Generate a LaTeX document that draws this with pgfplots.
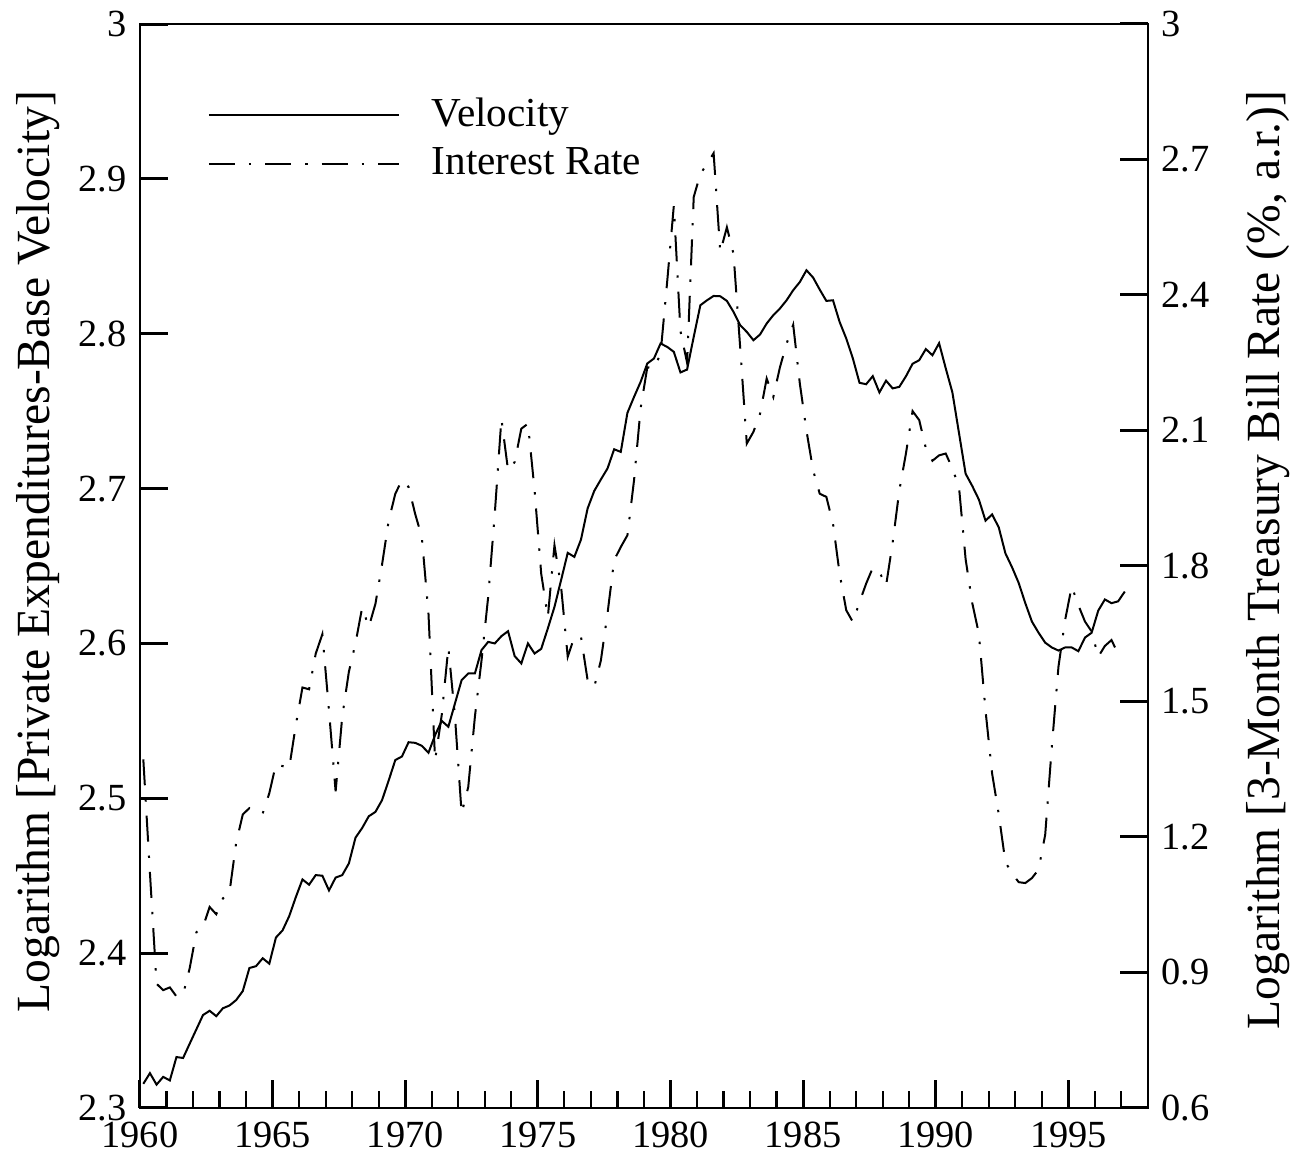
\documentclass[border=0pt]{standalone}
\usepackage{fontspec}
\setmainfont{Liberation Serif}
\usepackage{pgfplots}
\usepackage{pgfplotstable}
\pgfplotsset{compat=1.18}

\pgfplotstableread{
t v
1960.125 2.3156
1960.375 2.3225
1960.625 2.3151
1960.875 2.3201
1961.125 2.3178
1961.375 2.3329
1961.625 2.3323
1961.875 2.3416
1962.125 2.3508
1962.375 2.3600
1962.625 2.3628
1962.875 2.3593
1963.125 2.3644
1963.375 2.3662
1963.625 2.3697
1963.875 2.3755
1964.125 2.3904
1964.375 2.3916
1964.625 2.3967
1964.875 2.3932
1965.125 2.4101
1965.375 2.4147
1965.625 2.4239
1965.875 2.4362
1966.125 2.4476
1966.375 2.4442
1966.625 2.4504
1966.875 2.4500
1967.125 2.4405
1967.375 2.4488
1967.625 2.4504
1967.875 2.4580
1968.125 2.4746
1968.375 2.4808
1968.625 2.4884
1968.875 2.4912
1969.125 2.4988
1969.375 2.5115
1969.625 2.5247
1969.875 2.5270
1970.125 2.5362
1970.375 2.5358
1970.625 2.5339
1970.875 2.5294
1971.125 2.5408
1971.375 2.5500
1971.625 2.5462
1971.875 2.5613
1972.125 2.5763
1972.375 2.5806
1972.625 2.5806
1972.875 2.5957
1973.125 2.6010
1973.375 2.6000
1973.625 2.6047
1973.875 2.6079
1974.125 2.5918
1974.375 2.5871
1974.625 2.6000
1974.875 2.5935
1975.125 2.5965
1975.375 2.6097
1975.625 2.6236
1975.875 2.6409
1976.125 2.6585
1976.375 2.6559
1976.625 2.6671
1976.875 2.6872
1977.125 2.6985
1977.375 2.7059
1977.625 2.7130
1977.875 2.7254
1978.125 2.7237
1978.375 2.7489
1978.625 2.7592
1978.875 2.7690
1979.125 2.7808
1979.375 2.7840
1979.625 2.7937
1979.875 2.7915
1980.125 2.7883
1980.375 2.7750
1980.625 2.7769
1980.875 2.7980
1981.125 2.8184
1981.375 2.8216
1981.625 2.8244
1981.875 2.8242
1982.125 2.8212
1982.375 2.8141
1982.625 2.8055
1982.875 2.8012
1983.125 2.7958
1983.375 2.7995
1983.625 2.8066
1983.875 2.8120
1984.125 2.8163
1984.375 2.8216
1984.625 2.8281
1984.875 2.8334
1985.125 2.8410
1985.375 2.8363
1985.625 2.8285
1985.875 2.8212
1986.125 2.8216
1986.375 2.8076
1986.625 2.7969
1986.875 2.7840
1987.125 2.7683
1987.375 2.7674
1987.625 2.7726
1987.875 2.7621
1988.125 2.7697
1988.375 2.7647
1988.625 2.7657
1988.875 2.7725
1989.125 2.7806
1989.375 2.7829
1989.625 2.7901
1989.875 2.7861
1990.125 2.7939
1990.375 2.7777
1990.625 2.7622
1990.875 2.7359
1991.125 2.7096
1991.375 2.7017
1991.625 2.6929
1991.875 2.6793
1992.125 2.6833
1992.375 2.6749
1992.625 2.6582
1992.875 2.6492
1993.125 2.6391
1993.375 2.6260
1993.625 2.6141
1993.875 2.6069
1994.125 2.6005
1994.375 2.5974
1994.625 2.5954
1994.875 2.5974
1995.125 2.5974
1995.375 2.5950
1995.625 2.6038
1995.875 2.6069
1996.125 2.6212
1996.375 2.6284
1996.625 2.6260
1996.875 2.6272
1997.125 2.6335
}\velocity

\pgfplotstableread{
t r
1960.125 1.372
1960.375 1.120
1960.625 0.875
1960.875 0.861
1961.125 0.867
1961.375 0.847
1961.625 0.851
1961.875 0.910
1962.125 0.989
1962.375 1.001
1962.625 1.045
1962.875 1.029
1963.125 1.064
1963.375 1.078
1963.625 1.187
1963.875 1.250
1964.125 1.264
1964.375 1.258
1964.625 1.252
1964.875 1.297
1965.125 1.361
1965.375 1.357
1965.625 1.353
1965.875 1.448
1966.125 1.531
1966.375 1.527
1966.625 1.606
1966.875 1.649
1967.125 1.480
1967.375 1.301
1967.625 1.467
1967.875 1.566
1968.125 1.629
1968.375 1.708
1968.625 1.665
1968.875 1.716
1969.125 1.803
1969.375 1.900
1969.625 1.960
1969.875 1.990
1970.125 1.975
1970.375 1.915
1970.625 1.864
1970.875 1.695
1971.125 1.370
1971.375 1.470
1971.625 1.620
1971.875 1.466
1972.125 1.252
1972.375 1.311
1972.625 1.466
1972.875 1.591
1973.125 1.731
1973.375 1.916
1973.625 2.126
1973.875 2.012
1974.125 2.030
1974.375 2.104
1974.625 2.115
1974.875 1.968
1975.125 1.783
1975.375 1.687
1975.625 1.846
1975.875 1.754
1976.125 1.599
1976.375 1.643
1976.625 1.643
1976.875 1.547
1977.125 1.532
1977.375 1.591
1977.625 1.695
1977.875 1.813
1978.125 1.842
1978.375 1.868
1978.625 1.990
1978.875 2.150
1979.125 2.240
1979.375 2.237
1979.625 2.270
1979.875 2.430
1980.125 2.598
1980.375 2.320
1980.625 2.250
1980.875 2.617
1981.125 2.668
1981.375 2.690
1981.625 2.714
1981.875 2.495
1982.125 2.550
1982.375 2.491
1982.625 2.285
1982.875 2.071
1983.125 2.097
1983.375 2.137
1983.625 2.215
1983.875 2.174
1984.125 2.240
1984.375 2.292
1984.625 2.334
1984.875 2.204
1985.125 2.100
1985.375 2.012
1985.625 1.960
1985.875 1.953
1986.125 1.894
1986.375 1.783
1986.625 1.702
1986.875 1.676
1987.125 1.720
1987.375 1.761
1987.625 1.796
1987.875 1.787
1988.125 1.756
1988.375 1.852
1988.625 1.967
1988.875 2.049
1989.125 2.143
1989.375 2.123
1989.625 2.061
1989.875 2.033
1990.125 2.045
1990.375 2.049
1990.625 2.016
1990.875 1.975
1991.125 1.815
1991.375 1.718
1991.625 1.650
1991.875 1.480
1992.125 1.340
1992.375 1.250
1992.625 1.144
1992.875 1.120
1993.125 1.100
1993.375 1.098
1993.625 1.109
1993.875 1.128
1994.125 1.205
1994.375 1.400
1994.625 1.577
1994.875 1.680
1995.125 1.755
1995.375 1.713
1995.625 1.677
1995.875 1.655
1996.125 1.599
1996.375 1.623
1996.625 1.636
1996.875 1.605
}\interest

\begin{document}
\fontsize{9.6}{11.5}\selectfont
\begin{tikzpicture}
\useasboundingbox (-35pt,-12.25pt) rectangle (289.5pt,277pt);
\pgfplotsset{
  base/.style={
    width=252pt, height=271pt, scale only axis,
    xmin=1960, xmax=1998,
    major tick length=7pt, minor tick length=4.25pt,
    every tick/.style={black, line width=0.75pt},
    minor tick style={line width=0.55pt},
    axis line style={line width=0.7pt},
    tick label style={font=\fontsize{9.6}{11.5}\selectfont},
    label style={font=\fontsize{11.9}{14.3}\selectfont},
  },
  irstyle/.style={black, line width=0.5pt, dash pattern=on 6.5pt off 3.5pt on 0.6pt off 3.5pt},
}
\begin{axis}[base,
  tick align=inside,
  ymin=2.3, ymax=3,
  xtick={1960,1965,1970,1975,1980,1985,1990,1995},
  xticklabels={1960,1965,1970,1975,1980,1985,1990,1995},
  minor xtick={1961,1962,...,1997},
  xtick pos=left, ytick pos=left,
  ytick={2.3,2.4,2.5,2.6,2.7,2.8,2.9,3},
  yticklabels={2.3,2.4,2.5,2.6,2.7,2.8,2.9,3},
  ylabel={Logarithm [Private Expenditures-Base Velocity]},
  ylabel style={at={(axis description cs:-0.1012,0.513)}, anchor=center},
  legend style={draw=none, fill=none, at={(axis description cs:0.0665,0.933)},
    anchor=north west, inner sep=0pt, column sep=8.0pt, row sep=3.95pt,
    nodes={inner sep=0pt, anchor=west},
    font=\fontsize{10.3}{12.4}\selectfont},
  legend image code/.code={\draw[#1] (0pt,0pt) -- (47.5pt,0pt);},
]
\addplot[black, line width=0.5pt] table[x=t,y=v]{\velocity};
\addlegendentry{Velocity}
\addlegendimage{irstyle}
\addlegendentry{Interest Rate}
\end{axis}
\begin{axis}[base,
  ymin=0.6, ymax=3,
  axis x line=none, axis y line*=right,
  tick align=inside,
  ytick={0.6,0.9,1.2,1.5,1.8,2.1,2.4,2.7,3},
  yticklabels={0.6,0.9,1.2,1.5,1.8,2.1,2.4,2.7,3},
  ylabel={Logarithm [3-Month Treasury Bill Rate (\%, a.r.)]},
  ylabel style={at={(axis description cs:1.119,0.5055)}, anchor=center},
]
\addplot[irstyle] table[x=t,y=r]{\interest};
\end{axis}
\end{tikzpicture}
\end{document}
